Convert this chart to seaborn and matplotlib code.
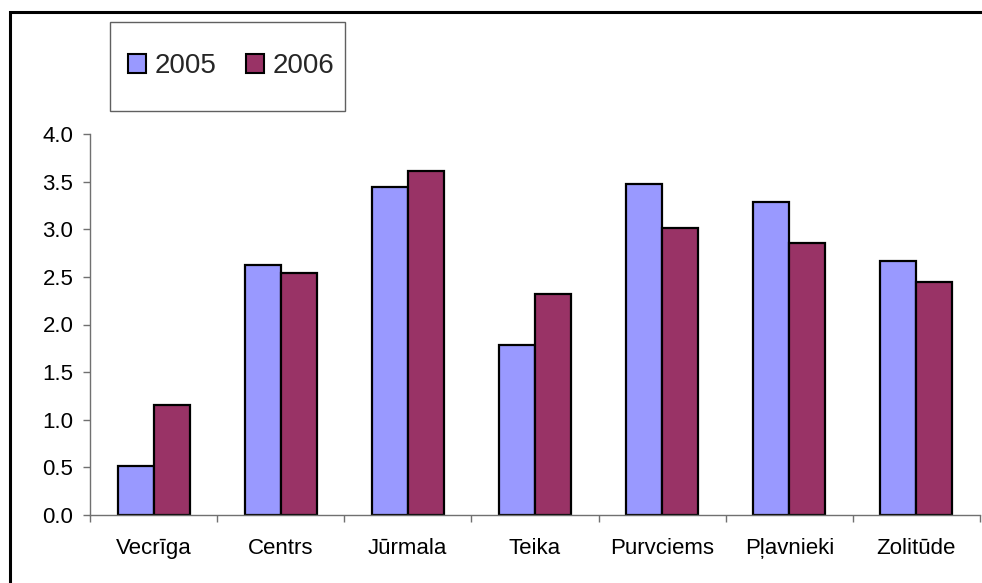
import matplotlib
matplotlib.use("Agg")
import matplotlib.pyplot as plt
import seaborn as sns
import pandas as pd
from matplotlib.patches import Rectangle
from matplotlib.ticker import FixedLocator, FormatStrFormatter

districts = ["Vecrīga", "Centrs", "Jūrmala", "Teika", "Purvciems", "Pļavnieki", "Zolitūde"]
years = ["2005", "2006"]
values_2005 = [0.51, 2.62, 3.44, 1.78, 3.48, 3.29, 2.67]
values_2006 = [1.16, 2.54, 3.61, 2.32, 3.01, 2.86, 2.45]
y_ticks = [0.0, 0.5, 1.0, 1.5, 2.0, 2.5, 3.0, 3.5, 4.0]

df = pd.DataFrame({
    "district": districts * 2,
    "year": [years[0]] * len(districts) + [years[1]] * len(districts),
    "value": values_2005 + values_2006,
})

sns.set_theme(style="white")
plt.rcParams["font.family"] = ["Liberation Sans", "DejaVu Sans"]

W, H = 982, 583
fig = plt.figure(figsize=(W / 100, H / 100), dpi=100)
ax = fig.add_axes([90 / W, (H - 515) / H, (980 - 90) / W, (515 - 134) / H])

palette = {"2005": "#9999FF", "2006": "#993366"}
sns.barplot(data=df, x="district", y="value", hue="year", order=districts,
            hue_order=years, palette=palette, width=0.567, saturation=1,
            edgecolor="black", linewidth=1.6, ax=ax, legend=False)

ax.set_xlim(-0.5, len(districts) - 0.5)
ax.set_ylim(0, 4.0)
ax.set_yticks(y_ticks)
ax.yaxis.set_major_formatter(FormatStrFormatter("%.1f"))
ax.set_xlabel("")
ax.set_ylabel("")

for s in ["top", "right"]:
    ax.spines[s].set_visible(False)
for s in ["left", "bottom"]:
    ax.spines[s].set_color("#707070")
    ax.spines[s].set_linewidth(1.0)

ax.xaxis.set_minor_locator(FixedLocator([i - 0.5 for i in range(len(districts) + 1)]))
ax.tick_params(axis="x", which="major", length=0, pad=16.5, labelsize=16, colors="black")
ax.tick_params(axis="x", which="minor", length=5, width=1, color="#707070", direction="out")
ax.tick_params(axis="y", which="major", length=5, width=1, color="#707070", direction="out",
               pad=7, labelsize=16, labelcolor="black")
ax.tick_params(axis="both", which="both", bottom=True, left=True)

# Outer chart frame (cropped at right and bottom)
fig.patches.append(Rectangle((10 / W, -0.05), 1.2, (H - 12) / H + 0.05,
                             transform=fig.transFigure, fill=False,
                             edgecolor="black", linewidth=2.2, clip_on=False))

# Legend box
fig.patches.append(Rectangle((110 / W, (H - 111) / H), 235 / W, 89 / H,
                             transform=fig.transFigure, fill=False,
                             edgecolor="#606060", linewidth=1.0, clip_on=False))

handles = [Rectangle((0, 0), 1, 1, facecolor=palette[y], edgecolor="black", linewidth=1.5)
           for y in years]
fig.legend(handles, years, loc="center left", bbox_to_anchor=(128 / W, (H - 66) / H),
           bbox_transform=fig.transFigure, ncol=2, frameon=False, fontsize=20,
           handlelength=0.65, handleheight=0.65, handletextpad=0.32, columnspacing=1.05,
           borderpad=0, borderaxespad=0)

fig.savefig("out.png", dpi=100, facecolor="white")
